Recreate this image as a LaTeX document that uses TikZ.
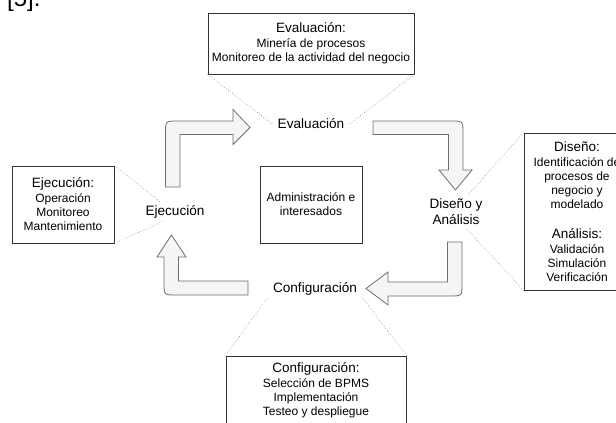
\documentclass[tikz,border=0pt]{standalone}
\usepackage{fontspec}
\setmainfont{Liberation Sans}
\usepackage{xcolor}
\usepackage{tikz}
\definecolor{arrowfill}{HTML}{F5F5F5}
\definecolor{arrowline}{HTML}{6E6E6E}
\definecolor{boxline}{HTML}{333333}
\newcommand{\boxtitle}[1]{{\fontsize{13.5}{14}\selectfont #1}}
\tikzset{
    Box/.style = {draw=boxline,line width=0.9pt,align=center,inner sep=0pt,
         font=\fontsize{12}{14}\selectfont},
    Stage/.style = {align=center,inner xsep=5pt,inner ysep=3pt,
         font=\fontsize{13.6}{16}\selectfont},
    BlockArrow/.style = {draw=arrowline,fill=arrowfill,line width=0.8pt},
    Link/.style = {draw=gray,dotted,line width=0.6pt}
}
\begin{document}
\begin{tikzpicture}[x=1pt,y=-1pt]
    \useasboundingbox (0,0) rectangle (616,423);
    \node[anchor=base west,inner sep=0pt,font=\fontsize{24}{24}\selectfont] (Cite) at (7,6) {[5].};
    \node[Box,minimum width=206pt,minimum height=61pt] (EvalBox) at (311,43.5)
        {\boxtitle{Evaluación:}\\[1pt]Minería de procesos\\Monitoreo de la actividad del negocio};
    \node[Box,minimum width=102pt,minimum height=77pt] (EjecBox) at (63,204.5)
        {\boxtitle{Ejecución:}\\[1pt]Operación\\Monitoreo\\Mantenimiento};
    \node[Box,minimum width=102pt,minimum height=77pt] (AdminBox) at (311,204.5)
        {Administración e\\interesados};
    \node[Box,minimum width=106pt,minimum height=157pt] (DisenoBox) at (577,211.5)
        {\boxtitle{Diseño:}\\[1pt]Identificación de\\procesos de\\negocio y\\modelado\\[16pt]
         \boxtitle{Análisis:}\\[1pt]Validación\\Simulación\\Verificación};
    \node[Box,minimum width=180pt,minimum height=68pt] (ConfBox) at (316,390)
        {\boxtitle{Configuración:}\\[1pt]Selección de BPMS\\Implementación\\Testeo y despliegue};
    \node[Stage] (Eval) at (311,124) {Evaluación};
    \node[Stage] (Ejec) at (175,212) {Ejecución};
    \node[Stage] (Diseno) at (456,212) {Diseño y\\Análisis};
    \node[Stage] (Conf) at (315,289) {Configuración};
    \draw[BlockArrow] (165.5,187) -- (165.5,133) .. controls (165.5,121) .. (177.5,121)
        -- (233,121) -- (233,109.5) -- (250,127.5) -- (233,144.5) -- (233,134.5)
        -- (180,134.5) -- (180,187) -- cycle;
    \draw[BlockArrow] (373,121) -- (451,121) .. controls (463,121) .. (463,133)
        -- (463,170) -- (472,170) -- (455.5,190) -- (439,170) -- (448.5,170)
        -- (448.5,134.5) -- (373,134.5) -- cycle;
    \draw[BlockArrow] (447.5,242) -- (447.5,282) -- (388,282) -- (388,272)
        -- (366,288.5) -- (388,305) -- (388,296) -- (450,296)
        .. controls (462,296) .. (462,284) -- (462,242) -- cycle;
    \draw[BlockArrow] (248,281) -- (178.5,281) -- (178.5,257) -- (186,257)
        -- (171.5,235) -- (157,257) -- (164,257) -- (164,283)
        .. controls (164,295) .. (176,295) -- (248,295) -- cycle;
    \foreach \A/\B in {EvalBox.south west/Eval.west,EvalBox.south east/Eval.east,
        EjecBox.north east/Ejec.146,EjecBox.south east/Ejec.-143,
        DisenoBox.north west/Diseno.55,DisenoBox.south west/Diseno.-58,
        ConfBox.north west/Conf.190,ConfBox.north east/Conf.-10}
        {\draw[Link] (\A) -- (\B);}
\end{tikzpicture}
\end{document}
